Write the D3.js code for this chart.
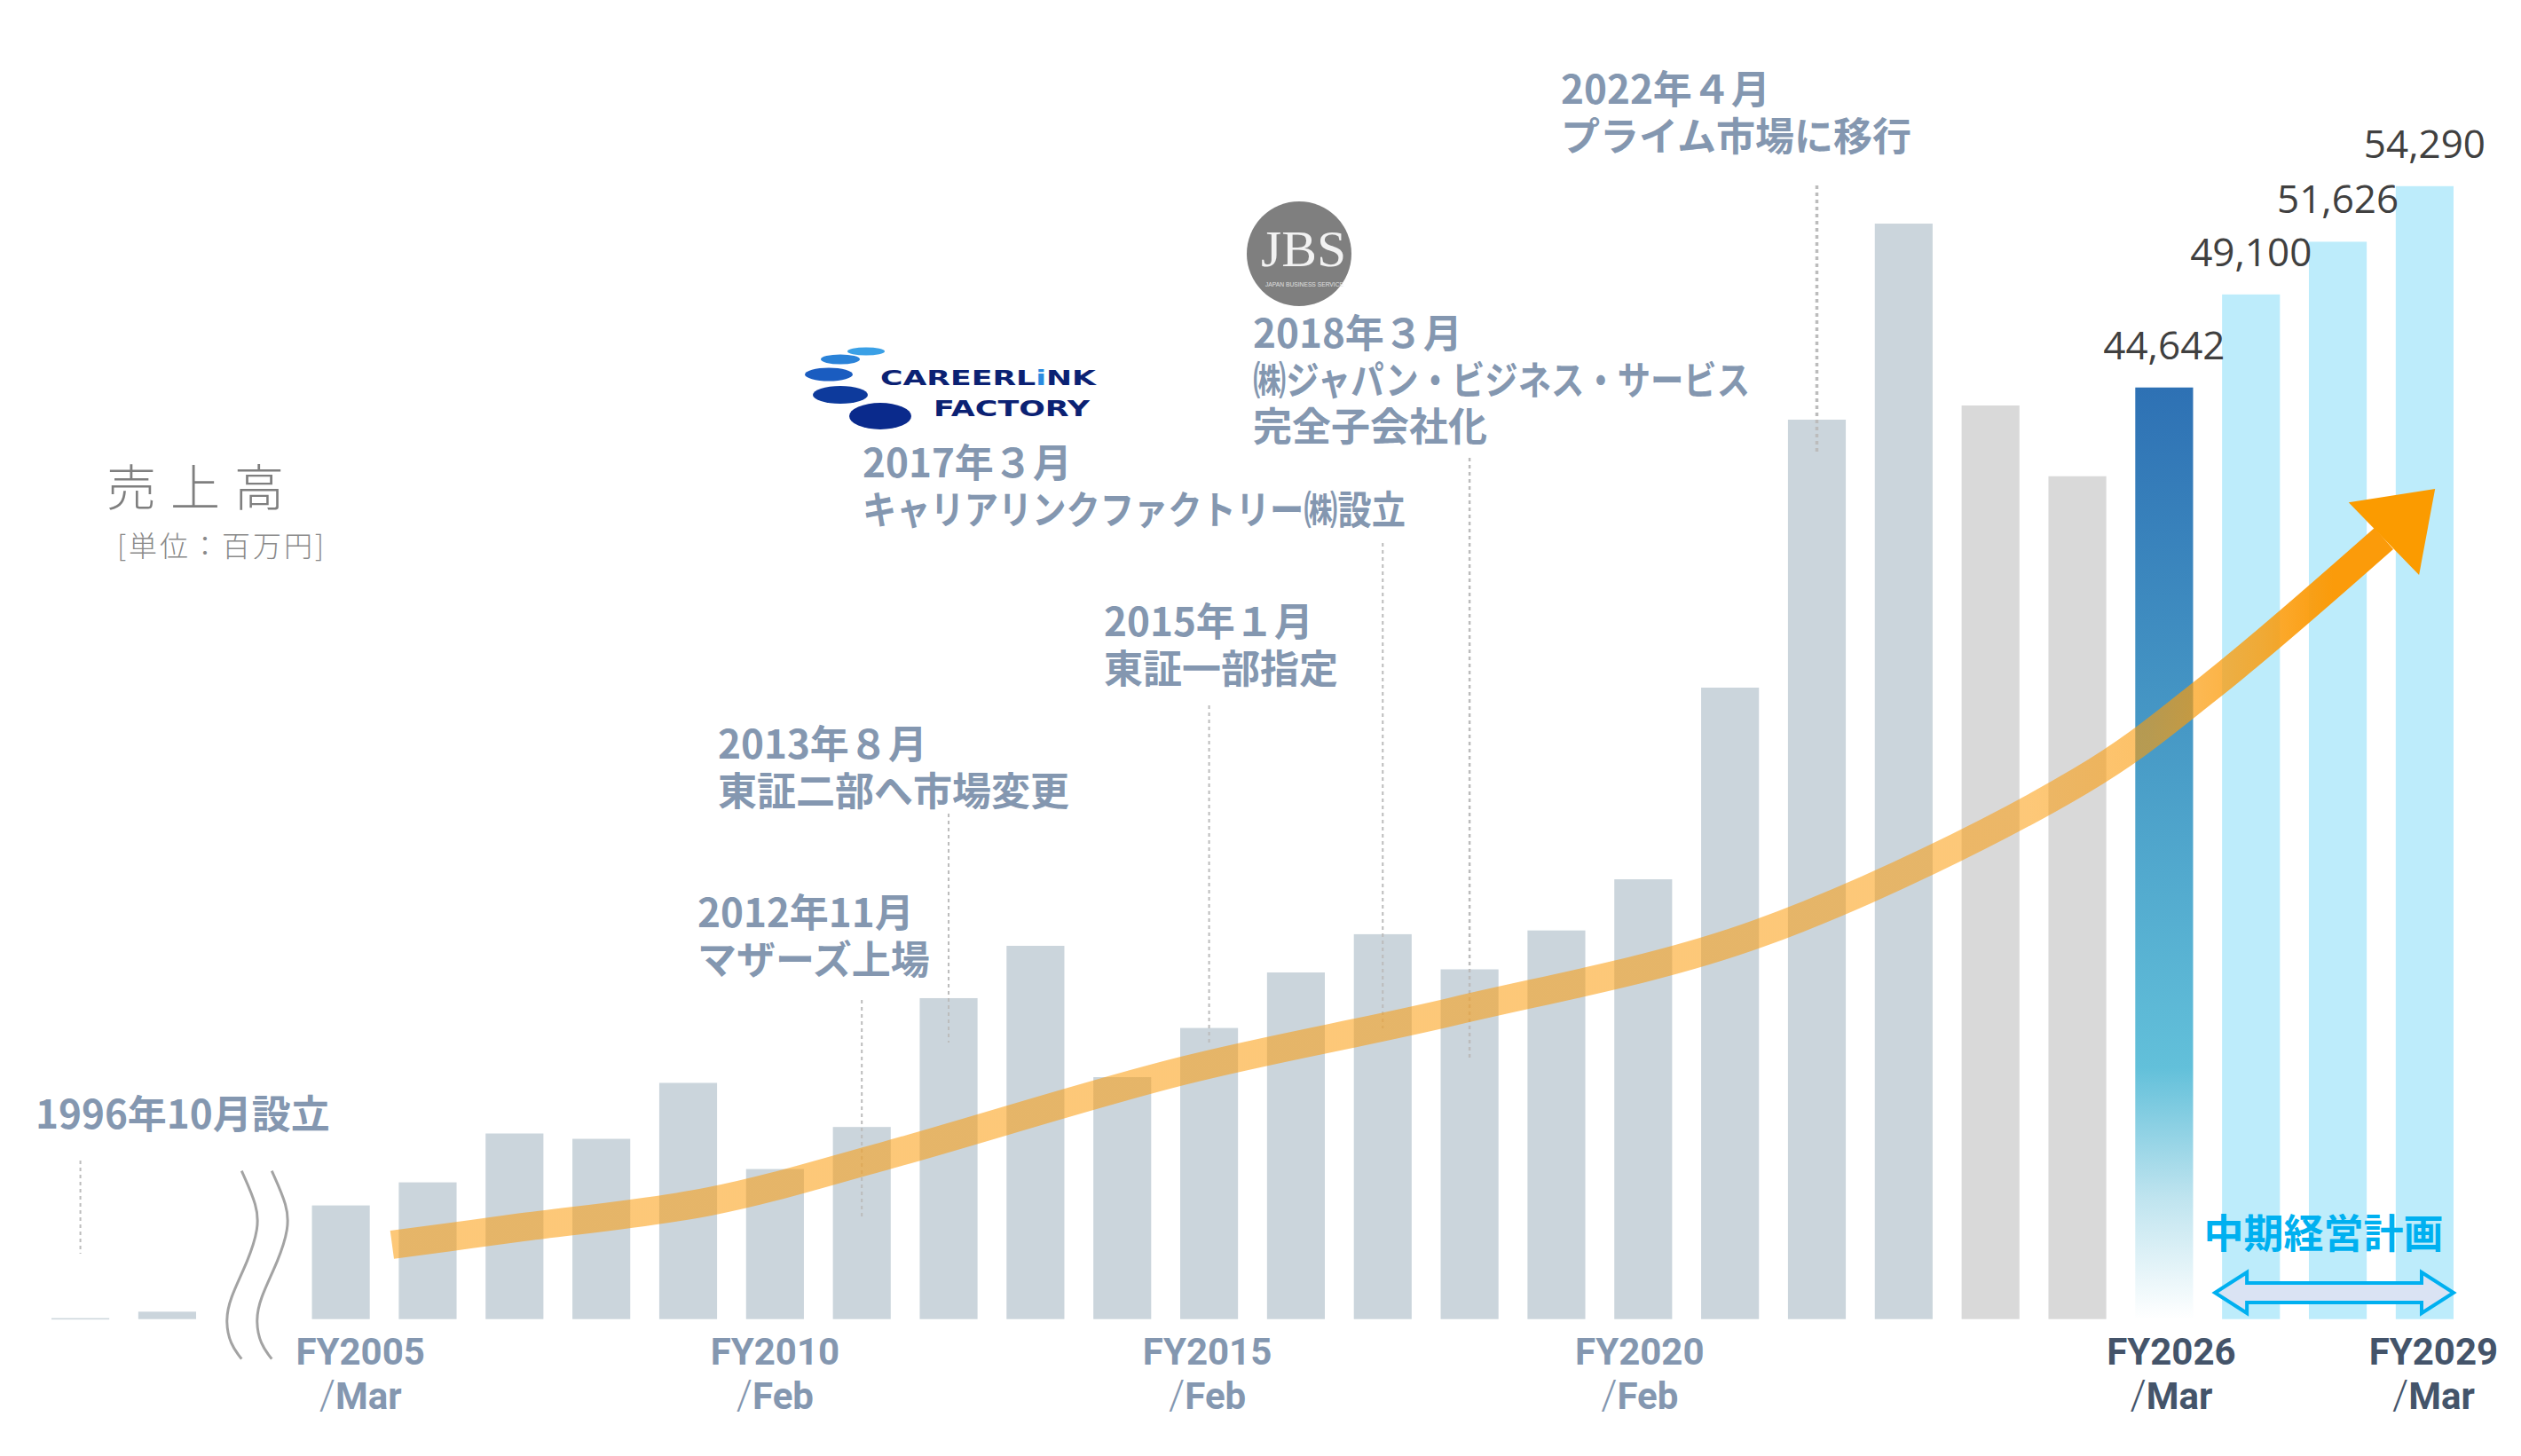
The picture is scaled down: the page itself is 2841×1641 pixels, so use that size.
<!DOCTYPE html>
<html>
<head>
<meta charset="utf-8">
<script src="https://cdn.jsdelivr.net/npm/d3@7"></script>
<style>
  body { margin: 0; background: #fff; }
  svg { display: block; }
</style>
</head>
<body>
<script>
// sales by fiscal year, millions of yen ('break' is the gap slot of the axis break)
var categories = ['FY1997', 'FY1998', 'break',
    'FY2005', 'FY2006', 'FY2007', 'FY2008', 'FY2009', 'FY2010', 'FY2011', 'FY2012',
    'FY2013', 'FY2014', 'FY2015', 'FY2016', 'FY2017', 'FY2018', 'FY2019', 'FY2020',
    'FY2021', 'FY2022', 'FY2023', 'FY2024', 'FY2025', 'FY2026', 'FY2027', 'FY2028', 'FY2029'];
var sales = [45, 355, null,
    5447, 6553, 8894, 8638, 11319, 7191, 9206, 15380,
    17886, 11594, 13950, 16611, 18444, 16760, 18624, 21075,
    30259, 43100, 52494, 43780, 40390, 44642, 49100, 51626, 54290];

var paleCats = ['FY2024', 'FY2025'];
var currentCat = 'FY2026';
var planCats = ['FY2027', 'FY2028', 'FY2029'];
var valueLabelCats = ['FY2026', 'FY2027', 'FY2028', 'FY2029'];

var tickCats = ['FY2005', 'FY2010', 'FY2015', 'FY2020', 'FY2026', 'FY2029'];
var tickMonths = ['Mar', 'Feb', 'Feb', 'Feb', 'Mar', 'Mar'];
var darkTicks = ['FY2026', 'FY2029'];

var eventCats = ['FY1997', 'FY2011', 'FY2012', 'FY2015', 'FY2017', 'FY2018', 'FY2022'];
var eventTexts = [
    ['1996年10月設立'],
    ['2012年11月', 'マザーズ上場'],
    ['2013年８月', '東証二部へ市場変更'],
    ['2015年１月', '東証一部指定'],
    ['2017年３月', 'キャリアリンクファクトリー㈱設立'],
    ['2018年３月', '㈱ジャパン・ビジネス・サービス', '完全子会社化'],
    ['2022年４月', 'プライム市場に移行']
];

// trend arrow: slot index (fractional) and value level
var trendIdx = [3.59, 5.03, 7.25, 9.29, 12.69, 15.81, 19.33, 23.04, 24.52, 26.53];
var trendVal = [3560, 4370, 5640, 7850, 11890, 14740, 18480, 25800, 30260, 37400];
var trendTip = [27.12, 39780];

var planLabel = '中期経営計画';
var titleText = '売上高';
var unitText = '[単位：百万円]';

// ---- layout ----
var width = 2841, height = 1641;
var baseline = 1486.7;

// text x, first baseline, dotted line top / bottom, squeezed line widths
var eventLayout = [
    {x: 40,   y: 1272, top: 1308, bottom: 1413, w: 2},
    {x: 786,  y: 1045, top: 1127, bottom: 1373, w: 2},
    {x: 809,  y: 855,  top: 917,  bottom: 1175, w: 2},
    {x: 1244, y: 717,  top: 795,  bottom: 1177, w: 2},
    {x: 972,  y: 538,  top: 612,  bottom: 1159, w: 2, fit: [null, 612]},
    {x: 1412, y: 392,  top: 516,  bottom: 1196, w: 2.5, fit: [null, 560, null]},
    {x: 1759, y: 117,  top: 209,  bottom: 513,  w: 3.5}
];
var tickDx = [22, 0, -2, -4, 8, 10];

var svg = d3.select('body')
    .append('svg')
    .attr('width', width)
    .attr('height', height)
    .style('background', '#ffffff');

var x = d3.scaleBand()
    .domain(categories)
    .range([58, 2765])
    .paddingInner(0.334)
    .paddingOuter(0);

var y = d3.scaleLinear()
    .domain([0, 60000])
    .range([baseline, baseline - 60000 * 0.02352]);

var bw = x.bandwidth();
var xi = d3.scaleLinear()
    .domain([0, categories.length - 1])
    .range([x(categories[0]) + bw / 2, x(categories[categories.length - 1]) + bw / 2]);

var defs = svg.append('defs');

var blueGrad = defs.append('linearGradient')
    .attr('id', 'curGrad')
    .attr('x1', 0).attr('y1', 0).attr('x2', 0).attr('y2', 1);
[[0, '#2e71b4'], [0.42, '#4a9ec8'], [0.73, '#62c0da'], [0.87, '#bfe4ef'], [1, '#ffffff']]
    .forEach(function(s) {
        blueGrad.append('stop').attr('offset', s[0]).attr('stop-color', s[1]);
    });

var orangeGrad = defs.append('linearGradient')
    .attr('id', 'trendGrad')
    .attr('gradientUnits', 'userSpaceOnUse')
    .attr('x1', 440).attr('y1', 0).attr('x2', 2745).attr('y2', 0);
[[0, 0.55], [0.8, 0.55], [0.86, 0.62], [0.915, 0.82], [0.95, 1], [1, 1]]
    .forEach(function(s) {
        orangeGrad.append('stop').attr('offset', s[0])
            .attr('stop-color', '#fb9b0a').attr('stop-opacity', s[1]);
    });

// ---- title ----
svg.append('text')
    .attr('x', 120)
    .attr('y', 570)
    .style('font-family', '"Noto Sans CJK JP", sans-serif')
    .style('font-weight', 300)
    .style('font-size', '56px')
    .style('letter-spacing', '16px')
    .style('fill', '#7f7f7f')
    .text(titleText);

svg.append('text')
    .attr('x', 132)
    .attr('y', 627)
    .style('font-family', '"Noto Sans CJK JP", sans-serif')
    .style('font-weight', 300)
    .style('font-size', '32px')
    .style('letter-spacing', '3px')
    .style('fill', '#8a8a8a')
    .text(unitText);

// ---- bars ----
var barData = categories.map(function(c, i) { return {cat: c, value: sales[i]}; })
    .filter(function(d) { return d.value !== null; });

function barFill(d) {
    if (d.cat === currentCat) return 'url(#curGrad)';
    if (planCats.indexOf(d.cat) >= 0) return '#bdecfb';
    if (paleCats.indexOf(d.cat) >= 0) return '#d9d9d9';
    return '#cbd5dc';
}

svg.append('g')
    .selectAll('rect')
    .data(barData)
    .enter()
    .append('rect')
    .attr('x', function(d) { return x(d.cat); })
    .attr('y', function(d) { return y(d.value); })
    .attr('width', bw)
    .attr('height', function(d) { return Math.max(1.5, baseline - y(d.value)); })
    .style('fill', barFill);

// ---- axis break marks ----
var breakPts = [[-14, -167], [4, -127], [5, -102], [-6, -67], [-28, -22], [-32, 3], [-27, 28], [-14, 45]];
var breakLine = d3.line()
    .x(function(d) { return d[0]; })
    .y(function(d) { return d[1]; })
    .curve(d3.curveBasis);
var breakCx = x('break') + bw / 2;
[0, 34].forEach(function(off) {
    svg.append('path')
        .attr('d', breakLine(breakPts))
        .attr('transform', 'translate(' + (breakCx + off) + ',' + baseline + ')')
        .style('fill', 'none')
        .style('stroke', '#a3a3a3')
        .style('stroke-width', 3);
});

// ---- event dotted lines and texts ----
eventCats.forEach(function(c, i) {
    var L = eventLayout[i];
    var cx = x(c) + bw / 2;
    svg.append('line')
        .attr('x1', cx).attr('x2', cx)
        .attr('y1', L.top).attr('y2', L.bottom)
        .style('stroke', '#bcbcbc')
        .style('stroke-width', L.w)
        .style('stroke-dasharray', '4,4');
    eventTexts[i].forEach(function(line, j) {
        var t = svg.append('text')
            .attr('x', L.x)
            .attr('y', L.y + j * 52.5)
            .style('font-family', '"Noto Sans CJK JP", sans-serif')
            .style('font-weight', 700)
            .style('font-size', '44px')
            .style('fill', '#8497b0')
            .text(line);
        if (L.fit && L.fit[j]) {
            t.attr('textLength', L.fit[j]).attr('lengthAdjust', 'spacingAndGlyphs');
        }
    });
});

// ---- logos ----
var clf = svg.append('g');
[[976, 396, 21, 4.5, '#3aa0e6'], [947, 405, 22, 5.5, '#2a82d8'], [934, 422, 27, 7.5, '#1a5cc0'],
 [947, 445, 31, 10, '#0d3a9c'], [992, 469, 35, 15, '#0a2a8c']].forEach(function(e) {
    clf.append('ellipse')
        .attr('cx', e[0]).attr('cy', e[1]).attr('rx', e[2]).attr('ry', e[3])
        .style('fill', e[4]);
});
var clText = clf.append('text')
    .attr('x', 992).attr('y', 434)
    .attr('textLength', 243).attr('lengthAdjust', 'spacingAndGlyphs')
    .style('font-family', '"DejaVu Sans", sans-serif')
    .style('font-weight', 700)
    .style('font-size', '23px')
    .style('fill', '#0b2173');
clText.append('tspan').text('CAREERL');
clText.append('tspan').style('fill', '#2a8be0').text('i');
clText.append('tspan').text('NK');
clf.append('text')
    .attr('x', 1052).attr('y', 469)
    .attr('textLength', 176).attr('lengthAdjust', 'spacingAndGlyphs')
    .style('font-family', '"DejaVu Sans", sans-serif')
    .style('font-weight', 700)
    .style('font-size', '25px')
    .style('fill', '#0b2173')
    .text('FACTORY');

var jbs = svg.append('g');
jbs.append('circle')
    .attr('cx', 1464).attr('cy', 286).attr('r', 59)
    .style('fill', '#7f7f7f');
jbs.append('text')
    .attr('x', 1469).attr('y', 300)
    .attr('text-anchor', 'middle')
    .attr('textLength', 96).attr('lengthAdjust', 'spacingAndGlyphs')
    .style('font-family', '"Liberation Serif", serif')
    .style('font-size', '58px')
    .style('fill', '#f2f2f2')
    .text('JBS');
jbs.append('text')
    .attr('x', 1470).attr('y', 323)
    .attr('text-anchor', 'middle')
    .attr('textLength', 88).attr('lengthAdjust', 'spacingAndGlyphs')
    .style('font-family', '"Liberation Sans", sans-serif')
    .style('font-size', '7px')
    .style('fill', '#e0e0e0')
    .text('JAPAN BUSINESS SERVICE');

// ---- trend arrow ----
var trendPts = trendIdx.map(function(d, i) { return [xi(d), y(trendVal[i])]; });
var trendLine = d3.line().curve(d3.curveCatmullRom.alpha(0.5));
svg.append('path')
    .attr('d', trendLine(trendPts))
    .style('fill', 'none')
    .style('stroke', 'url(#trendGrad)')
    .style('stroke-width', 32)
    .style('stroke-linecap', 'butt');

var P = trendPts[trendPts.length - 1];
var T = [xi(trendTip[0]), y(trendTip[1])];
var dx = T[0] - P[0], dy = T[1] - P[1], len = Math.sqrt(dx * dx + dy * dy);
var nx = -dy / len, ny = dx / len, half = 57;
svg.append('path')
    .attr('d', 'M' + T[0] + ',' + T[1] +
        'L' + (P[0] + nx * half) + ',' + (P[1] + ny * half) +
        'L' + (P[0] - nx * half) + ',' + (P[1] - ny * half) + 'Z')
    .style('fill', '#fb9b00');

// ---- value labels ----
svg.append('g')
    .selectAll('text')
    .data(barData.filter(function(d) { return valueLabelCats.indexOf(d.cat) >= 0; }))
    .enter()
    .append('text')
    .attr('x', function(d) { return x(d.cat) + bw / 2; })
    .attr('y', function(d) { return y(d.value) - 32; })
    .attr('text-anchor', 'middle')
    .style('font-family', '"Open Sans", sans-serif')
    .style('font-size', '44px')
    .style('fill', '#404040')
    .text(function(d) { return d3.format(',')(d.value); });

// ---- plan period marker ----
var planX0 = x(planCats[0]) - 8, planX1 = x(planCats[planCats.length - 1]) + bw;
svg.append('text')
    .attr('x', (planX0 + planX1) / 2 - 12)
    .attr('y', 1407)
    .attr('text-anchor', 'middle')
    .style('font-family', '"Noto Sans CJK JP", sans-serif')
    .style('font-weight', 700)
    .style('font-size', '45px')
    .style('fill', '#00b0f0')
    .text(planLabel);

var ay = 1457, head = 36, hh = 23, sh = 11;
svg.append('path')
    .attr('d', 'M' + planX0 + ',' + ay +
        'L' + (planX0 + head) + ',' + (ay - hh) +
        'L' + (planX0 + head) + ',' + (ay - sh) +
        'L' + (planX1 - head) + ',' + (ay - sh) +
        'L' + (planX1 - head) + ',' + (ay - hh) +
        'L' + planX1 + ',' + ay +
        'L' + (planX1 - head) + ',' + (ay + hh) +
        'L' + (planX1 - head) + ',' + (ay + sh) +
        'L' + (planX0 + head) + ',' + (ay + sh) +
        'L' + (planX0 + head) + ',' + (ay + hh) + 'Z')
    .style('fill', '#dae3f3')
    .style('stroke', '#00b0f0')
    .style('stroke-width', 4);

// ---- x axis ----
var xAxis = d3.axisBottom(x)
    .tickValues(tickCats)
    .tickSize(0)
    .tickPadding(0);

var axisG = svg.append('g')
    .attr('transform', 'translate(0,' + baseline + ')')
    .call(xAxis);
axisG.select('.domain').remove();
axisG.attr('font-family', null).attr('font-size', null);
axisG.selectAll('.tick text').remove();
axisG.selectAll('.tick')
    .each(function(d, i) {
        var g = d3.select(this);
        var col = darkTicks.indexOf(d) >= 0 ? '#44546a' : '#8497b0';
        g.append('text')
            .attr('x', tickDx[i])
            .attr('y', 51)
            .attr('text-anchor', 'middle')
            .style('font-family', 'Roboto, sans-serif')
            .style('font-weight', 700)
            .style('font-size', '42px')
            .style('fill', col)
            .text(d);
        var m = g.append('text')
            .attr('x', tickDx[i])
            .attr('y', 101)
            .attr('text-anchor', 'middle')
            .style('font-family', 'Roboto, sans-serif')
            .style('font-size', '42px')
            .style('fill', col);
        m.append('tspan').style('font-weight', 300).style('font-size', '46px').text('/');
        m.append('tspan').style('font-weight', 700).text(tickMonths[i]);
    });
</script>
</body>
</html>
